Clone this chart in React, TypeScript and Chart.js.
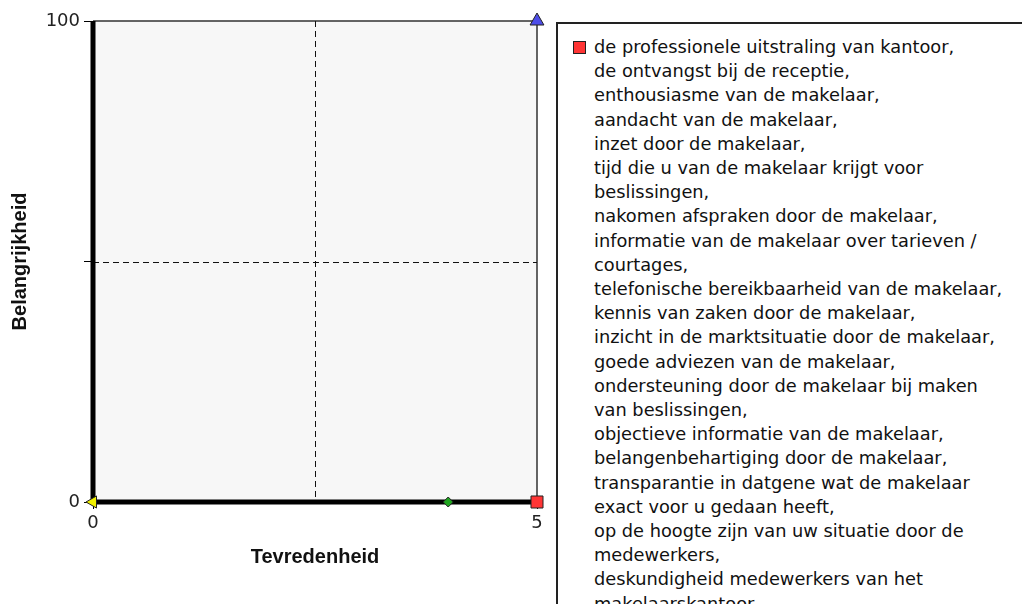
import React, { useEffect, useRef } from 'react';
import { Chart, registerables } from 'chart.js';

Chart.register(...registerables);

// ---- data ----
const xTitle = 'Tevredenheid';
const yTitle = 'Belangrijkheid';
const xRange = [0, 5];
const yRange = [0, 100];
const xTickValues = [0, 5];
const xTickLabels = ['0', '5'];
const yTickValues = [0, 50, 100];
const yTickLabels = ['0', '', '100'];
const xDivider = 2.5;
const yDivider = 50;

const seriesX = [5, 5, 4, 0];
const seriesY = [0, 100, 0, 0];
const seriesColors = ['#ff3535', '#4d4de8', '#1fa51f', '#f0f000'];
const seriesShapes = ['rect', 'triangle', 'rectRot', 'triangle'];
const seriesRadius = [8.5, 8, 5, 7];
const seriesRotation = [0, 0, 0, -90];

const firstSeriesLabel = [
  'de professionele uitstraling van kantoor,',
  'de ontvangst bij de receptie,',
  'enthousiasme van de makelaar,',
  'aandacht van de makelaar,',
  'inzet door de makelaar,',
  'tijd die u van de makelaar krijgt voor',
  'beslissingen,',
  'nakomen afspraken door de makelaar,',
  'informatie van de makelaar over tarieven /',
  'courtages,',
  'telefonische bereikbaarheid van de makelaar,',
  'kennis van zaken door de makelaar,',
  'inzicht in de marktsituatie door de makelaar,',
  'goede adviezen van de makelaar,',
  'ondersteuning door de makelaar bij maken',
  'van beslissingen,',
  'objectieve informatie van de makelaar,',
  'belangenbehartiging door de makelaar,',
  'transparantie in datgene wat de makelaar',
  'exact voor u gedaan heeft,',
  'op de hoogte zijn van uw situatie door de',
  'medewerkers,',
  'deskundigheid medewerkers van het',
  'makelaarskantoor,',
];

const quadrantPlugin = {
  id: 'quadrant',
  beforeDraw(chart: any) {
    const { ctx, chartArea: a } = chart;
    ctx.save();
    ctx.fillStyle = '#f7f7f7';
    ctx.fillRect(a.left, a.top, a.right - a.left, a.bottom - a.top);
    ctx.restore();
  },
  beforeDatasetsDraw(chart: any) {
    const { ctx, chartArea: a, scales } = chart;
    const x = scales.x;
    const y = scales.y;
    ctx.save();
    // thin top / right border
    ctx.strokeStyle = '#333';
    ctx.lineWidth = 1.5;
    ctx.beginPath();
    ctx.moveTo(a.left, a.top);
    ctx.lineTo(a.right, a.top);
    ctx.moveTo(a.right, a.top);
    ctx.lineTo(a.right, a.bottom);
    ctx.stroke();
    // dashed dividers
    ctx.strokeStyle = '#111';
    ctx.lineWidth = 1;
    ctx.setLineDash([6, 4]);
    const mx = Math.round(x.getPixelForValue(xDivider)) + 0.5;
    const my = Math.round(y.getPixelForValue(yDivider)) + 0.5;
    ctx.beginPath();
    ctx.moveTo(mx, a.top);
    ctx.lineTo(mx, a.bottom);
    ctx.moveTo(a.left, my);
    ctx.lineTo(a.right, my);
    ctx.stroke();
    ctx.setLineDash([]);
    // thick left / bottom axes
    ctx.strokeStyle = '#000';
    ctx.lineWidth = 5;
    ctx.beginPath();
    ctx.moveTo(a.left, a.top);
    ctx.lineTo(a.left, a.bottom + 2.5);
    ctx.moveTo(a.left, a.bottom);
    ctx.lineTo(a.right, a.bottom);
    ctx.stroke();
    ctx.restore();
  },
};

export default function App() {
  const canvasRef = useRef<HTMLCanvasElement | null>(null);

  useEffect(() => {
    if (!canvasRef.current) return;
    const datasets = seriesX.map((xv, i) => ({
      label: i === 0 ? firstSeriesLabel.join(' ') : '',
      data: [{ x: xv, y: seriesY[i] }],
      pointStyle: seriesShapes[i],
      pointRadius: seriesRadius[i],
      pointRotation: seriesRotation[i],
      backgroundColor: seriesColors[i],
      borderColor: '#222',
      borderWidth: 1,
      clip: false as any,
    }));
    const tickFont = { family: 'DejaVu Sans', size: 18 };
    const titleFont = { family: 'Liberation Sans', size: 20, weight: 'bold' as any };
    const chart = new Chart(canvasRef.current, {
      type: 'scatter',
      data: { datasets },
      plugins: [quadrantPlugin],
      options: {
        animation: false,
        responsive: false,
        layout: { padding: { top: 21, right: 485, bottom: 0, left: 0 } },
        plugins: { legend: { display: false }, tooltip: { enabled: false } },
        scales: {
          x: {
            type: 'linear',
            min: xRange[0],
            max: xRange[1],
            afterBuildTicks: (s: any) => {
              s.ticks = xTickValues.map((v) => ({ value: v }));
            },
            ticks: {
              color: '#222',
              font: tickFont,
              padding: 4,
              maxRotation: 0,
              callback: (v: any) => xTickLabels[xTickValues.indexOf(Number(v))] ?? '',
            },
            grid: { drawOnChartArea: false, tickLength: 7, color: '#000', tickColor: '#000', lineWidth: 1 },
            border: { display: false },
            title: { display: true, text: xTitle, font: titleFont, color: '#111', padding: { top: 0, bottom: 35 } },
            afterFit: (s: any) => {
              s.height = 102;
            },
          },
          y: {
            type: 'linear',
            min: yRange[0],
            max: yRange[1],
            afterBuildTicks: (s: any) => {
              s.ticks = yTickValues.map((v) => ({ value: v }));
            },
            ticks: {
              color: '#222',
              font: tickFont,
              padding: 4,
              callback: (v: any) => yTickLabels[yTickValues.indexOf(Number(v))] ?? '',
            },
            grid: { drawOnChartArea: false, tickLength: 9, color: '#000', tickColor: '#000', lineWidth: 1 },
            border: { display: false },
            title: { display: true, text: yTitle, font: titleFont, color: '#111', padding: { top: 8, bottom: 0 } },
            afterFit: (s: any) => {
              s.width = 93;
            },
          },
        },
      },
    });
    return () => chart.destroy();
  }, []);

  return (
    <div
      style={{
        position: 'fixed',
        left: 0,
        top: 0,
        width: 1022,
        height: 604,
        overflow: 'hidden',
        background: '#fff',
      }}
    >
      <canvas ref={canvasRef} width={1022} height={604} style={{ display: 'block' }} />
      <div
        style={{
          position: 'absolute',
          left: 556,
          top: 22,
          width: 500,
          height: 700,
          border: '2px solid #222',
          boxSizing: 'border-box',
          background: '#fff',
        }}
      >
        <div
          style={{
            position: 'absolute',
            left: 15,
            top: 17,
            width: 11,
            height: 11,
            background: seriesColors[0],
            border: '1px solid #222',
          }}
        />
        <div
          style={{
            position: 'absolute',
            left: 36,
            top: 11,
            fontFamily: 'DejaVu Sans',
            fontSize: 17.8,
            lineHeight: '24.2px',
            color: '#111',
            whiteSpace: 'pre',
          }}
        >
          {firstSeriesLabel.map((line, i) => (
            <div key={i}>{line}</div>
          ))}
        </div>
      </div>
    </div>
  );
}
